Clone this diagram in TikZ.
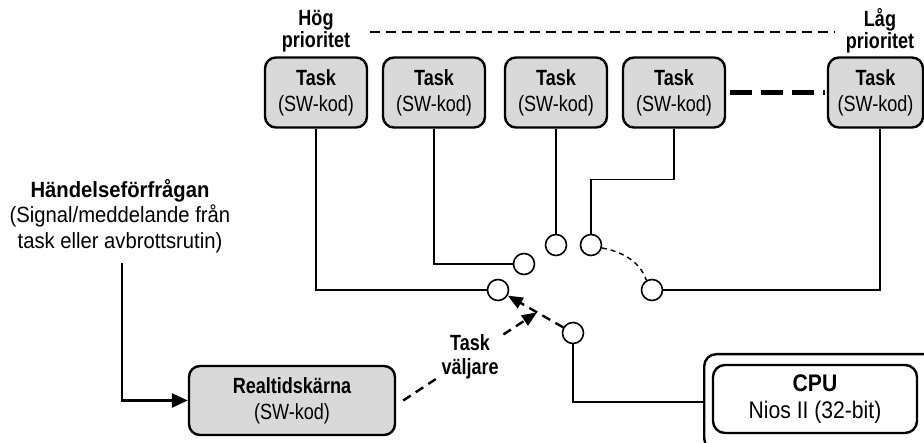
\documentclass[tikz,border=0pt]{standalone}
\usepackage{fontspec}
\setmainfont{Liberation Sans}[FakeStretch=0.82]
\newfontfamily\hfont{Liberation Sans}[FakeStretch=0.92]
\newfontfamily\cfont{Liberation Sans}[FakeStretch=0.88]
\usetikzlibrary{arrows.meta,calc}
\definecolor{boxgray}{RGB}{217,217,217}
\begin{document}
\begin{tikzpicture}[x=1pt,y=-1pt,
  every node/.style={font=\fontsize{22}{26}\selectfont},
  taskbox/.style={draw, line width=2.4pt, rounded corners=11pt, fill=boxgray, minimum width=102pt, minimum height=70pt, align=center, inner sep=0pt},
  sw/.style={circle, draw, line width=1.6pt, minimum size=21pt, inner sep=0pt, fill=white},
  wire/.style={line width=1.6pt},
  sel/.style={line width=2.4pt, dash pattern=on 9pt off 6pt, -{Triangle[length=15pt,width=12pt]}},
  lbl/.style={align=center, inner sep=0pt}]
\useasboundingbox (0,0) rectangle (924,443);

% priority labels
\node[lbl, font=\fontsize{22}{22}\selectfont] (hog) at (316,31) {\textbf{Hög}\\\textbf{prioritet}};
\node[lbl, font=\fontsize{22}{22}\selectfont] (lag) at (880,31) {\textbf{Låg}\\\textbf{prioritet}};
\coordinate (dl) at (370,32);
\coordinate (dr) at (835,32);
\draw[line width=2.2pt, dash pattern=on 10pt off 6pt] (dl) -- (dr);

% tasks
\node[taskbox] (t1) at (316,92.5) {\textbf{Task}\\(SW-kod)};
\node[taskbox] (t2) at (434,92.5) {\textbf{Task}\\(SW-kod)};
\node[taskbox] (t3) at (556,92.5) {\textbf{Task}\\(SW-kod)};
\node[taskbox] (t4) at (674,92.5) {\textbf{Task}\\(SW-kod)};
\node[taskbox, minimum width=95pt] (t5) at (875.5,92.5) {\textbf{Task}\\(SW-kod)};
\draw[line width=4.5pt, dash pattern=on 22pt off 9pt, shorten <=4pt, shorten >=2pt] (t4.east) -- (t5.west);

% switch contacts
\node[sw] (s1) at (498,290) {};
\node[sw] (s2) at (524,264) {};
\node[sw] (s3) at (556,245) {};
\node[sw] (s4) at (591,245) {};
\node[sw] (s5) at (652,290) {};
\node[sw] (sc) at (573,333) {};

% CPU
\begin{scope}
\clip (0,0) rectangle (924,443);
\node[draw, line width=2.4pt, rounded corners=12pt, minimum width=240pt, minimum height=96pt, anchor=north west, inner sep=0pt] (cpuo) at (703,353) {};
\end{scope}
\node[draw, line width=2.4pt, rounded corners=12pt, fill=white, minimum width=204pt, minimum height=68pt, align=center, inner sep=0pt, font=\cfont\fontsize{24}{27}\selectfont] (cpu) at (815,399) {\textbf{CPU}\\Nios II (32-bit)};

% wires
\draw[wire] (t1.south) |- (s1.west);
\draw[wire] (t2.south) |- (s2.west);
\draw[wire] (t3.south) -- (s3.north);
\draw[wire] (t4.south) -- ++(0,51) -| (s4.north);
\draw[wire] ([xshift=4.5pt]t5.south) |- (s5.east);
\draw[wire] (sc.south) |- (cpuo.west);
\draw[line width=1.4pt, dash pattern=on 5pt off 4pt] (s4.-15) .. controls (628,253) and (641,265) .. (s5.120);

% Realtidskärna
\node[taskbox, minimum width=206pt, minimum height=69pt] (rt) at (292,400.5) {\textbf{Realtidskärna}\\(SW-kod)};

% selector arrows
\draw[sel] (sc.150) -- (s1.-30);
\coordinate (mid) at ($(sc)!0.48!(s1)$);
\draw[sel] ([xshift=7pt]rt.east) -- node[lbl, fill=white, inner sep=2pt, font=\fontsize{22}{24}\selectfont, pos=0.5] (tv) {\textbf{Task}\\\textbf{väljare}} (mid);

% event request
\node[lbl, font=\hfont\fontsize{22}{25.5}\selectfont] (hand) at (120,216) {\textbf{Händelseförfrågan}\\(Signal/meddelande från\\task eller avbrottsrutin)};
\coordinate (hs) at (122,263);
\draw[line width=2.6pt, -{Triangle[length=16pt,width=14pt]}] (hs) |- (rt.west);
\end{tikzpicture}
\end{document}
